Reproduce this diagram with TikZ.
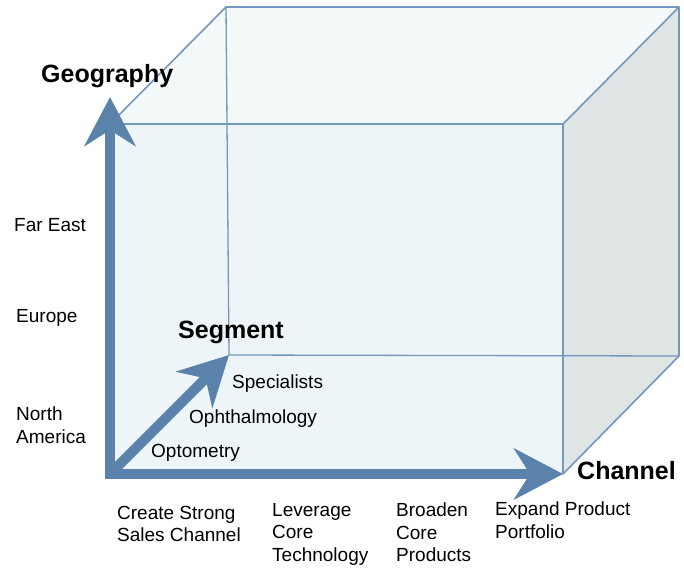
\documentclass[tikz,border=0pt]{standalone}
\usepackage{fontspec}
\setmainfont{Liberation Sans}
\usetikzlibrary{arrows.meta}
\definecolor{axisblue}{HTML}{5A82AA}
\definecolor{edgeblue}{HTML}{7397BD}
\definecolor{frontfill}{HTML}{EEF5F8}
\definecolor{topfill}{HTML}{F3F8F9}
\definecolor{sidefill}{HTML}{DFE4E4}
\begin{document}
\begin{tikzpicture}[x=1pt,y=-1pt,
  axisarrow/.style={line width=10pt, draw=axisblue, -{Stealth[length=49pt,width=51pt,inset=16pt]}},
  cubeedge/.style={draw=edgeblue, line width=1.6pt, line join=round},
  lbl/.style={inner sep=0pt, font=\fontsize{19}{22.5}\selectfont, text=black},
  mlbl/.style={lbl, align=left, anchor=north west},
  ttl/.style={inner sep=0pt, font=\fontsize{25}{30}\selectfont\bfseries, text=black, anchor=base west},
]
\useasboundingbox (0,0) rectangle (684,567);
% cube corners
\coordinate (A) at (110,124);
\coordinate (B) at (563,124);
\coordinate (C) at (563,474);
\coordinate (O) at (110,474);
\coordinate (Ab) at (226,7);
\coordinate (Bb) at (679,7);
\coordinate (Cb) at (679,356);
\coordinate (Ob) at (229,355);
\coordinate (Ov) at (110,479);
\coordinate (Oh) at (105,474);
\coordinate (Gtip) at (110,97);
% faces
\fill[frontfill] (A) -- (B) -- (C) -- (O) -- cycle;
\fill[topfill] (A) -- (Ab) -- (Bb) -- (B) -- cycle;
\fill[sidefill] (B) -- (Bb) -- (Cb) -- (C) -- cycle;
% edges
\draw[cubeedge] (A) -- (Ab) -- (Bb) -- (Cb) -- (C) -- (B) -- (Bb);
\draw[cubeedge] (A) -- (B);
\draw[cubeedge, line width=1.3pt] (Ab) -- (Ob) -- (Cb);
% axes
\draw[axisarrow] (Ov) -- (Gtip);
\draw[axisarrow] (Oh) -- (C);
\draw[axisarrow] (O) -- (Ob);
% titles
\node[ttl] (geo) at (41,83) {Geography};
\node[ttl] (seg) at (178,338) {Segment};
\node[ttl] (chan) at (577,479) {Channel};
% geography labels
\node[lbl, anchor=base west] (fareast) at (14,231) {Far East};
\node[lbl, anchor=base west] (europe) at (16,322) {Europe};
\node[mlbl] (namerica) at (16,407) {North\\America};
% segment labels
\node[lbl, anchor=base west] (spec) at (232,388) {Specialists};
\node[lbl, anchor=base west] (ophth) at (189,423) {Ophthalmology};
\node[lbl, anchor=base west] (optom) at (151,457) {Optometry};
% channel labels
\node[mlbl] (create) at (117,506) {Create Strong\\Sales Channel};
\node[mlbl] (leverage) at (272,503) {Leverage\\Core\\Technology};
\node[mlbl] (broaden) at (396,503) {Broaden\\Core\\Products};
\node[mlbl] (expand) at (495,502) {Expand Product\\Portfolio};
\end{tikzpicture}
\end{document}
